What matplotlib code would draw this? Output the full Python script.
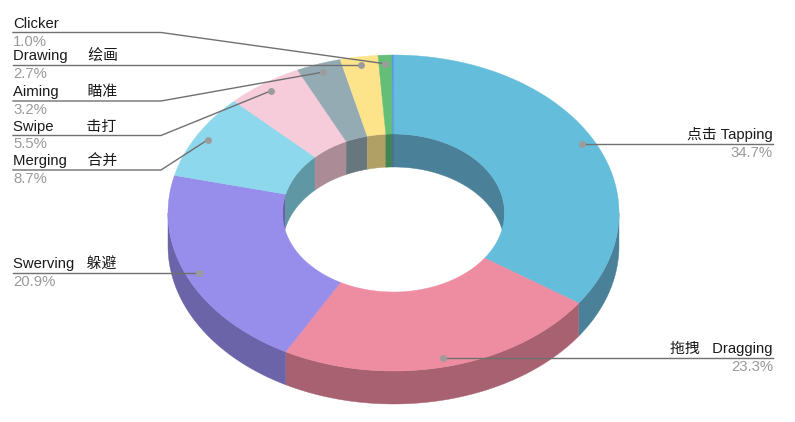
import numpy as np
import matplotlib
matplotlib.use('Agg')
import matplotlib.pyplot as plt
from matplotlib.patches import Polygon

plt.rcParams['font.family'] = ['Liberation Sans', 'Noto Sans CJK SC', 'DejaVu Sans']

names = ['点击 Tapping', '拖拽   Dragging', 'Swerving   躲避', 'Merging     合并', 'Swipe        击打',
         'Aiming       瞄准', 'Drawing     绘画', 'Clicker']
percents = ['34.7%', '23.3%', '20.9%', '8.7%', '5.5%', '3.2%', '2.7%', '1.0%']
values = [34.7, 23.3, 20.9, 8.7, 5.5, 3.2, 2.7, 1.0, 0.1]
top_colors = ['#64BDDA', '#EE8CA2', '#978DEB', '#8DD8EC', '#F6CBDA', '#95ABB4', '#FDE48A', '#64BE78', '#4F8FF0']
wall_colors = ['#4A8198', '#A86170', '#6B64A8', '#5F97A5', '#AB8C96', '#68767D', '#B0A065', '#438453', '#35609F']

# pie geometry in pixels
cx, cy = 393.5, 213
rx, ry = 225.5, 158
inner_rx, inner_ry = 111, 79
depth = 33
dot_k = 0.945

# where the leader lines bend, None = straight
elbows = [None, None, None, (161, 170), (161, 135.5), (161, 101), None, (161, 32.5)]
line_ends = [773, 773, 13, 13, 13, 13, 13, 13]


def arc(a0, a1, a, b, dy=0):
    t = np.linspace(a0, a1, max(int(abs(a1 - a0) * 120), 2))
    return np.column_stack([cx + a * np.sin(t), cy + dy - b * np.cos(t)])


fig = plt.figure(figsize=(7.95, 4.22), dpi=100)
ax = fig.add_axes([0, 0, 1, 1])
ax.set_xlim(0, 795)
ax.set_ylim(422, 0)
ax.axis('off')

edges = np.cumsum([0] + values) / sum(values) * 2 * np.pi

for i in range(len(values)):
    a0, a1 = edges[i], edges[i + 1]
    # outer wall, front half only
    lo, hi = max(a0, np.pi / 2), min(a1, 3 * np.pi / 2)
    if lo < hi:
        pts = np.vstack([arc(lo, hi, rx, ry), arc(hi, lo, rx, ry, depth)])
        ax.add_patch(Polygon(pts, fc=wall_colors[i], ec=wall_colors[i], lw=0.3, zorder=1))
    # inner wall, back half only
    for lo, hi in [(a0, min(a1, np.pi / 2)), (max(a0, 3 * np.pi / 2), a1)]:
        if lo < hi:
            pts = np.vstack([arc(lo, hi, inner_rx, inner_ry), arc(hi, lo, inner_rx, inner_ry, depth)])
            ax.add_patch(Polygon(pts, fc=wall_colors[i], ec=wall_colors[i], lw=0.3, zorder=2))

for i in range(len(values)):
    a0, a1 = edges[i], edges[i + 1]
    pts = np.vstack([arc(a0, a1, rx, ry), arc(a1, a0, inner_rx, inner_ry)])
    ax.add_patch(Polygon(pts, fc=top_colors[i], ec=top_colors[i], lw=0.3, zorder=3))

for i in range(len(names)):
    mid = (edges[i] + edges[i + 1]) / 2
    dx = cx + rx * dot_k * np.sin(mid)
    dy = cy - ry * dot_k * np.cos(mid)
    end = line_ends[i]
    if elbows[i] is None:
        ex, ey = dx, dy
        y = dy
    else:
        ex, ey = elbows[i]
        y = ey
    ax.plot([dx, ex, end], [dy, ey, y], color='#707070', lw=1.0, zorder=4, solid_joinstyle='miter')
    ax.plot([dx], [dy], 'o', ms=5, color='#9C9C9C', mec='none', zorder=5)
    ha = 'right' if end > 400 else 'left'
    ax.text(end, y - 2, names[i], ha=ha, va='bottom', fontsize=10.7, color='#1A1A1A', zorder=6)
    ax.text(end, y + 2, percents[i], ha=ha, va='top', fontsize=10.7, color='#9A9A9A', zorder=6)

plt.savefig('out.png', dpi=100, facecolor='white')
